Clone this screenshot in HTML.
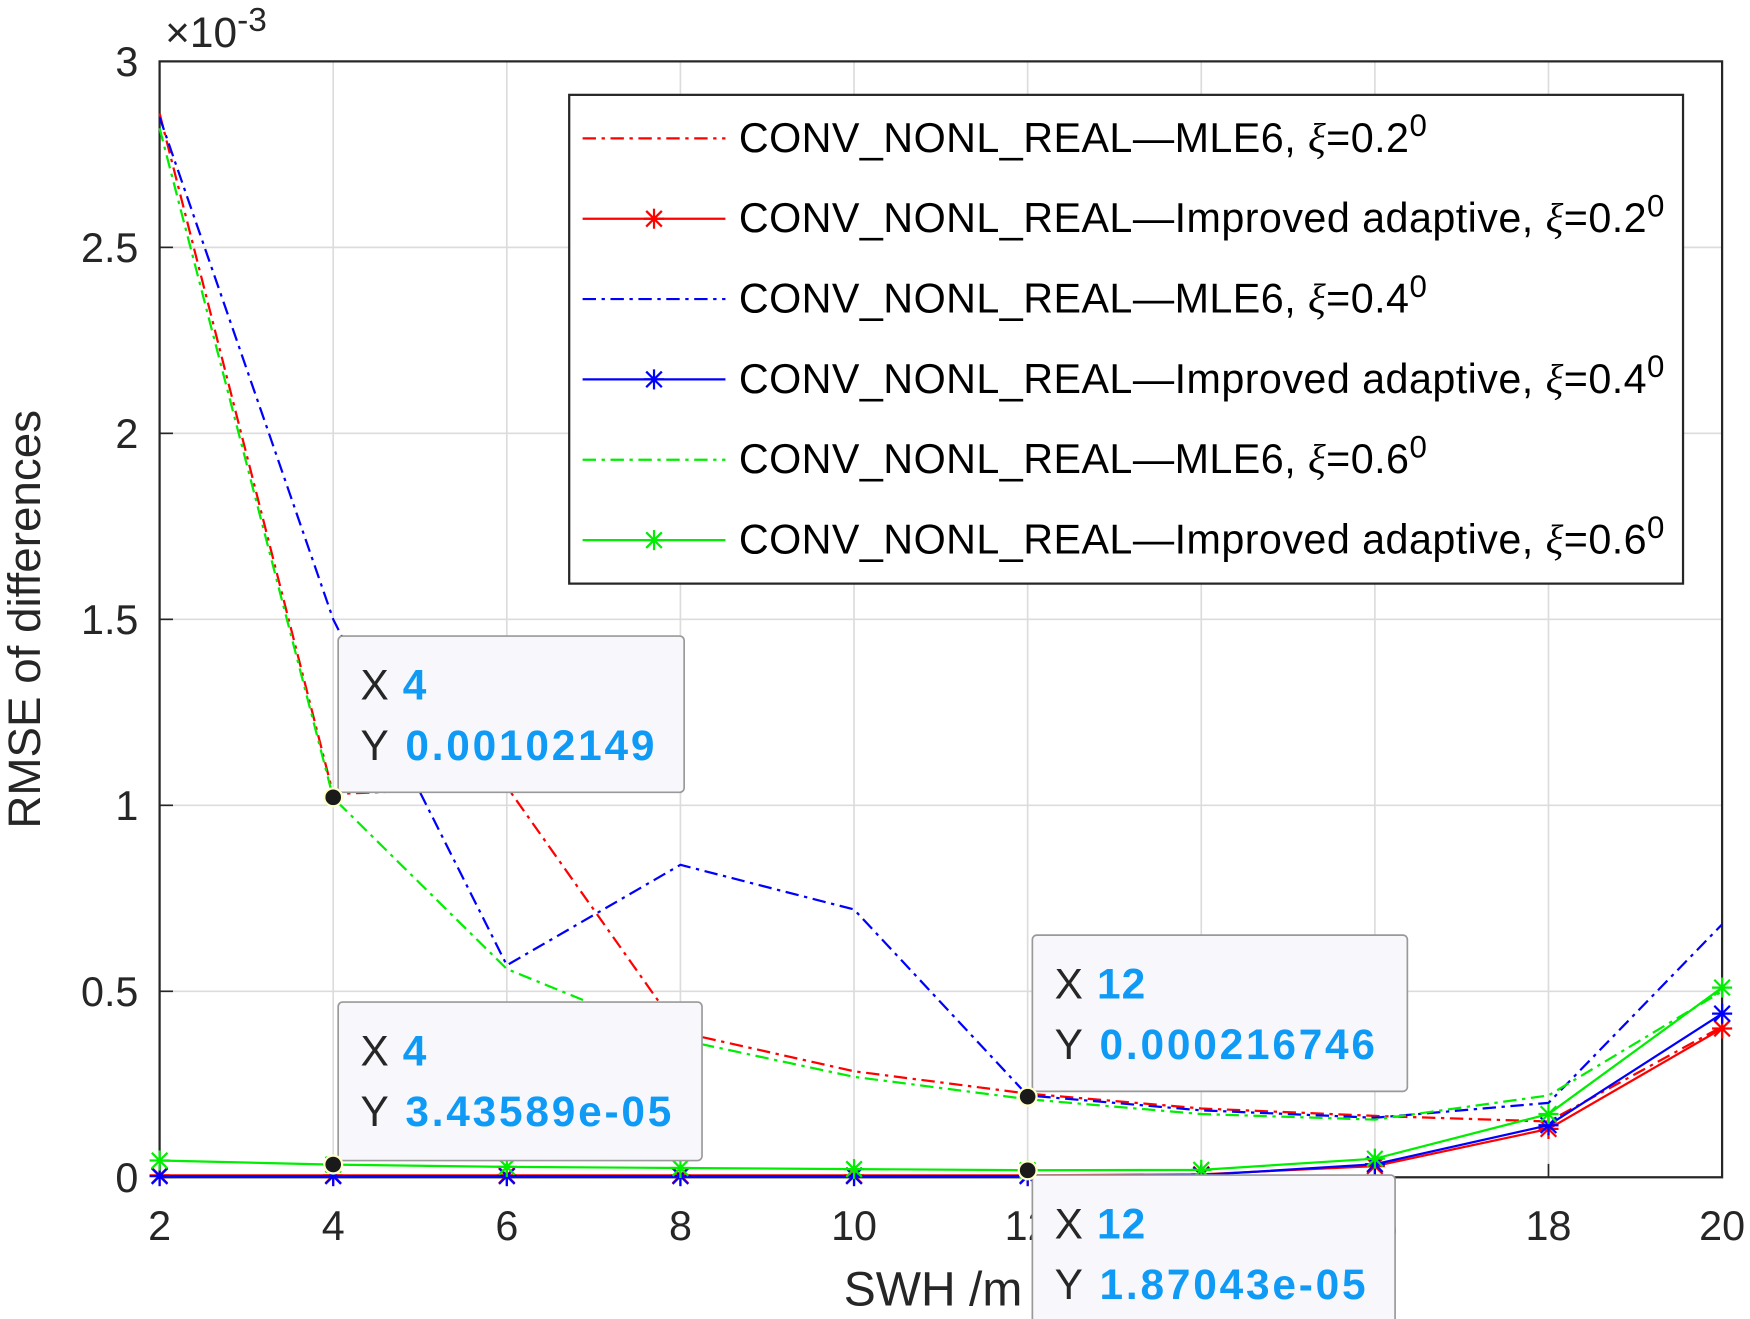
<!DOCTYPE html>
<html><head><meta charset="utf-8"><style>html,body{margin:0;padding:0;background:#fff}svg{display:block}</style></head>
<body>
<svg id="s" width="1750" height="1319" viewBox="0 0 1568 1182" preserveAspectRatio="none" xmlns="http://www.w3.org/2000/svg" font-family="Liberation Sans, sans-serif">
<rect width="1568" height="1182" fill="#fff"/>
<g id="grid" stroke="#dcdcdc" stroke-width="1.5"></g>
<rect x="143" y="55" width="1400" height="1000" fill="none" stroke="#262626" stroke-width="2"/>
<g id="ticks" font-size="37" fill="#262626"></g>
<text x="148" y="42" font-size="38" fill="#262626">×10<tspan dy="-14" font-size="30">-3</tspan></text>
<text transform="translate(36,555) rotate(-90)" text-anchor="middle" font-size="41" fill="#262626">RMSE of differences</text>
<text x="836" y="1170" text-anchor="middle" font-size="43" fill="#262626">SWH /m</text>
<g id="series"></g>
<g id="legend">
<rect x="510" y="85" width="998" height="438" fill="#fff" stroke="#262626" stroke-width="2"/>
</g>
<g id="tips"></g>
</svg>
<script>
const NS="http://www.w3.org/2000/svg";
const X=v=>143+(v-2)*1400/18, Y=v=>1055-v*1000/3;
function el(p,t,a,txt){const e=document.createElementNS(NS,t);for(const k in a)e.setAttribute(k,a[k]);if(txt!=null)e.textContent=txt;document.getElementById(p).appendChild(e);return e;}
for(let x=4;x<=18;x+=2)el("grid","line",{x1:X(x),x2:X(x),y1:55,y2:1055});
for(let y=0.5;y<3;y+=0.5)el("grid","line",{x1:143,x2:1543,y1:Y(y),y2:Y(y)});
for(let x=2;x<=20;x+=2){el("ticks","text",{x:X(x),y:1111,"text-anchor":"middle"},x);el("grid","line",{x1:X(x),x2:X(x),y1:1055,y2:1043,stroke:"#262626"});}
["0","0.5","1","1.5","2","2.5","3"].forEach((t,i)=>{el("ticks","text",{x:124,y:Y(i*0.5)+13,"text-anchor":"end"},t);el("grid","line",{x1:143,x2:155,y1:Y(i*0.5),y2:Y(i*0.5),stroke:"#262626"});});
const xs=[2,4,6,8,10,12,14,16,18,20];
const S=[
["#ff0000",1,[2.86,1.03,1.05,0.39,0.285,0.225,0.185,0.165,0.15,0.405]],
["#0000ff",1,[2.85,1.5,0.57,0.84,0.72,0.22,0.18,0.16,0.2,0.68]],
["#00ee00",1,[2.82,1.02,0.56,0.37,0.27,0.21,0.17,0.155,0.22,0.5]],
["#ff0000",0,[0.005,0.005,0.005,0.005,0.005,0.005,0.008,0.03,0.13,0.4]],
["#0000ff",0,[0.003,0.003,0.003,0.003,0.003,0.003,0.006,0.035,0.14,0.44]],
["#00ee00",0,[0.045,0.034,0.028,0.025,0.022,0.019,0.02,0.05,0.17,0.51]]];
function star(g,x,y,c){const r=9;[[0,r],[r,0],[7,7],[7,-7]].forEach(([a,b])=>el(g,"line",{x1:x-a,y1:y-b,x2:x+a,y2:y+b,stroke:c,"stroke-width":2}));}
S.forEach(([c,d,v])=>{el("series","polyline",{points:v.map((y,i)=>X(xs[i])+","+Y(y)).join(" "),fill:"none",stroke:c,"stroke-width":2,"stroke-dasharray":d?"12 5 3 5":"none"});if(!d)v.forEach((y,i)=>star("series",X(xs[i]),Y(y),c));});
const L=[["#ff0000",1,"0.2"],["#ff0000",0,"0.2"],["#0000ff",1,"0.4"],["#0000ff",0,"0.4"],["#00ee00",1,"0.6"],["#00ee00",0,"0.6"]];
L.forEach(([c,d,v],i)=>{const y=124+i*72;el("legend","line",{x1:522,x2:650,y1:y,y2:y,stroke:c,"stroke-width":2,"stroke-dasharray":d?"12 5 3 5":"none"});if(!d)star("legend",586,y,c);
const t=el("legend","text",{x:662,y:y+12,"font-size":37,fill:"#000","letter-spacing":0.4});t.innerHTML="CONV_NONL_REAL—"+(d?"MLE6":"Improved adaptive")+", <tspan font-family='Liberation Serif' font-style='italic'>ξ</tspan>="+v+"<tspan dy='-14' font-size='28'>0</tspan>";});
[[303,570,310,140,"4","0.00102149",X(4),Y(1.02149)],[303,898,326,142,"4","3.43589e-05",X(4),Y(0.0343589)],[925,838,336,140,"12","0.000216746",X(12),Y(0.216746)],[925,1053,325,140,"12","1.87043e-05",X(12),Y(0.0187043)]].forEach(([x,y,w,h,a,b,px,py])=>{
el("tips","rect",{x:x,y:y,width:w,height:h,rx:4,fill:"#f8f8fc",stroke:"#999","stroke-width":1.5});
let t=el("tips","text",{x:x+20,y:y+57,"font-size":38,fill:"#262626","letter-spacing":1});t.innerHTML="X <tspan fill='#0f9bf5' font-weight='bold'>"+a+"</tspan>";
t=el("tips","text",{x:x+20,y:y+111,"font-size":38,fill:"#262626","letter-spacing":2.5});t.innerHTML="Y <tspan fill='#0f9bf5' font-weight='bold'>"+b+"</tspan>";
el("tips","circle",{cx:px,cy:py,r:8,fill:"#1a1a1a",stroke:"#ffffcc","stroke-width":2});});
</script>
</body></html>
